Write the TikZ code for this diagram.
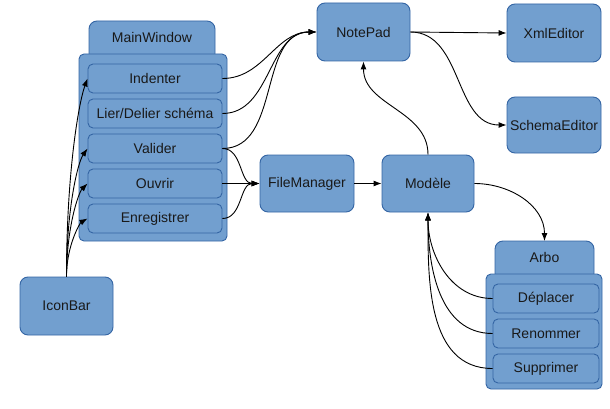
\documentclass[tikz,border=0pt]{standalone}
\usepackage{fontspec}
\setmainfont{Liberation Sans}
\usetikzlibrary{arrows.meta}
\definecolor{fillc}{HTML}{729FCF}
\definecolor{bordc}{HTML}{3465A4}
\begin{document}
\begin{tikzpicture}[x=1pt,y=-1pt,
  box/.style={draw=bordc, fill=fillc, rounded corners=8pt, line width=0.9pt, inner sep=0pt, font=\fontsize{14}{16}\selectfont, text=black!90},
  item/.style={box, rounded corners=5pt},
  grp/.style={draw=bordc, fill=fillc, line width=0.9pt, rounded corners=5pt},
  tab/.style={draw=bordc, fill=fillc, line width=0.9pt, rounded corners=8pt},
  lbl/.style={font=\fontsize{14}{16}\selectfont, text=black!90, inner sep=0pt},
  conn/.style={draw=black, line width=0.9pt, -{Latex[length=8pt,width=6pt]}},
  up/.style={out=90, out looseness=1.3, in looseness=0.35}]
\useasboundingbox (0,0) rectangle (610,409);
% MainWindow group
\path[tab] (89,70) -- (89,21) -- (215,21) -- (215,70) -- cycle;
\node[lbl] (mwlabel) at (152,37) {MainWindow};
\node[grp, minimum width=148pt, minimum height=187pt, inner sep=0pt] (mainwindow) at (153,147.5) {};
\node[item, minimum width=134pt, minimum height=29pt] (indenter) at (155,78.5) {Indenter};
\node[item, minimum width=134pt, minimum height=29pt] (lier) at (155,113.5) {Lier/Delier schéma};
\node[item, minimum width=134pt, minimum height=29pt] (valider) at (155,148.5) {Valider};
\node[item, minimum width=134pt, minimum height=29pt] (ouvrir) at (155,183.5) {Ouvrir};
\node[item, minimum width=134pt, minimum height=29pt] (enreg) at (155,218.5) {Enregistrer};
% Arbo group
\path[tab] (495,290) -- (495,241) -- (594,241) -- (594,290) -- cycle;
\node[lbl] (arbolabel) at (544.5,257) {Arbo};
\coordinate (arbotop) at (544.5,241);
\node[grp, minimum width=116pt, minimum height=115pt] (arbo) at (544,331.5) {};
\node[item, minimum width=106pt, minimum height=29pt] (deplacer) at (546,298.5) {Déplacer};
\node[item, minimum width=106pt, minimum height=29pt] (renommer) at (546,333.5) {Renommer};
\node[item, minimum width=106pt, minimum height=29pt] (supprimer) at (546,368.5) {Supprimer};
% other nodes
\node[box, minimum width=93pt, minimum height=58pt] (notepad) at (363.5,32) {NotePad};
\node[box, minimum width=94pt, minimum height=58pt] (xmleditor) at (554,33) {XmlEditor};
\node[box, minimum width=94pt, minimum height=56pt] (schemaeditor) at (554,125) {SchemaEditor};
\node[box, minimum width=94pt, minimum height=57pt] (filemanager) at (307,183.5) {FileManager};
\node[box, minimum width=92pt, minimum height=57pt] (modele) at (428,183.5) {Modèle};
\node[box, minimum width=93pt, minimum height=58pt] (iconbar) at (66.5,306) {IconBar};
% connectors
\draw[conn] (iconbar.north) to[up,in=250] (indenter.west);
\draw[conn] (iconbar.north) to[up,in=235] (valider.west);
\draw[conn] (iconbar.north) to[up,in=225] (ouvrir.west);
\draw[conn] (iconbar.north) to[up,in=210] (enreg.west);
\draw[conn] (indenter.east) to[out=0,in=180] (notepad.west);
\draw[conn] (lier.east) to[out=0,in=180] (notepad.west);
\draw[conn] (valider.east) to[out=0,in=180] (notepad.west);
\draw[conn] (valider.east) to[out=0,in=180] (filemanager.west);
\draw[conn] (ouvrir.east) -- (filemanager.west);
\draw[conn] (enreg.east) to[out=0,in=180] (filemanager.west);
\draw[conn] (filemanager.east) -- (modele.west);
\draw[conn] (modele.north) to[out=90,in=-90] (notepad.south);
\draw[conn] (notepad.east) -- (xmleditor.west);
\draw[conn] (notepad.east) to[out=0,in=180] (schemaeditor.west);
\draw[conn] (modele.east) to[out=0,in=90] (arbotop);
\draw[conn] (deplacer.west) to[out=180,in=-90] (modele.south);
\draw[conn] (renommer.west) to[out=180,in=-90] (modele.south);
\draw[conn] (supprimer.west) to[out=180,in=-90] (modele.south);
\end{tikzpicture}
\end{document}
